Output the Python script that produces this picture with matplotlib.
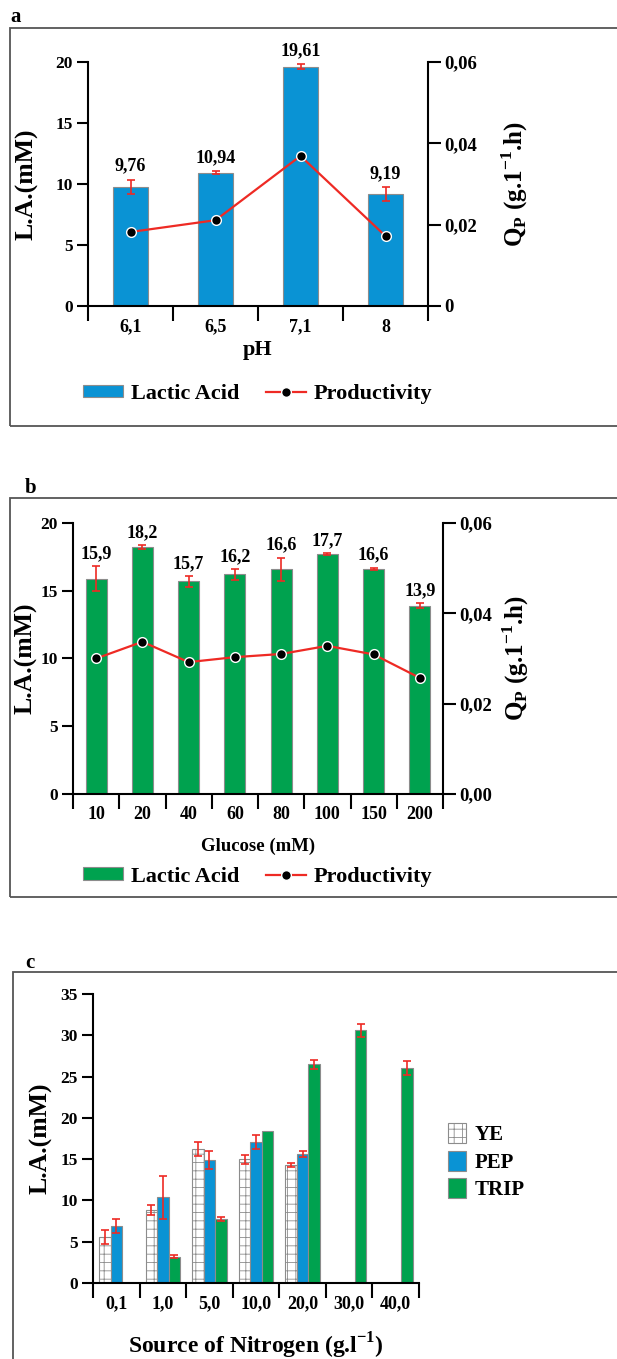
import numpy as np
import matplotlib
matplotlib.use('Agg')
import matplotlib.pyplot as plt
from matplotlib.patches import Rectangle

plt.rcParams['font.family'] = ['Liberation Serif', 'DejaVu Serif']
plt.rcParams['font.weight'] = 'bold'
plt.rcParams['axes.labelweight'] = 'bold'
plt.rcParams['hatch.linewidth'] = 0.6

# ---- data ----
ph_labels = ['6,1', '6,5', '7,1', '8']
la_ph = [9.76, 10.94, 19.61, 9.19]
la_ph_err = [0.6, 0.15, 0.2, 0.55]
qp_ph = [0.0182, 0.0211, 0.0369, 0.0172]

glu_labels = ['10', '20', '40', '60', '80', '100', '150', '200']
la_glu = [15.9, 18.2, 15.7, 16.2, 16.6, 17.7, 16.6, 13.9]
la_glu_err = [0.9, 0.15, 0.4, 0.4, 0.85, 0.05, 0.1, 0.2]
qp_glu = [0.0300, 0.0337, 0.0292, 0.0303, 0.0310, 0.0328, 0.0309, 0.0257]

nit_labels = ['0,1', '1,0', '5,0', '10,0', '20,0', '30,0', '40,0']
ye = [5.6, 8.8, 16.2, 15.0, 14.3, np.nan, np.nan]
ye_err = [0.85, 0.6, 0.85, 0.55, 0.25, 0, 0]
pep = [6.9, 10.4, 14.9, 17.1, 15.6, np.nan, np.nan]
pep_err = [0.9, 2.6, 1.1, 0.85, 0.4, 0, 0]
trip = [np.nan, 3.2, 7.8, 18.4, 26.5, 30.6, 26.0]
trip_err = [0, 0.2, 0.25, 0, 0.55, 0.75, 0.85]

BLUE = '#0a93d4'
GREEN = '#00a24f'
RED = '#ee2a24'
EDGE = '#8c8c8c'

W, H = 617, 1359
fig = plt.figure(figsize=(W / 100, H / 100), dpi=100)


def rect(l, r, top, bot):
    # pixel box -> figure fraction
    return [l / W, 1 - bot / H, (r - l) / W, (bot - top) / H]


def frame(x0, y0, y1, letter, lx, ly):
    fig.patches.append(Rectangle((x0 / W, 1 - y1 / H), (W + 10 - x0) / W, (y1 - y0) / H,
                                 transform=fig.transFigure, fill=False,
                                 edgecolor='#555555', linewidth=1.3, clip_on=False))
    fig.text(lx / W, 1 - ly / H, letter, fontsize=15, ha='left', va='center')


def style_axes(ax, n, ytl, ylabel):
    ax.set_xlim(0, n)
    ax.spines['top'].set_visible(False)
    ax.spines['right'].set_visible(False)
    for s in ['left', 'bottom']:
        ax.spines[s].set_linewidth(1.5)
    ax.set_xticks(np.arange(n + 1))
    ax.set_xticklabels([])
    ax.tick_params(axis='x', which='major', length=11, width=1.5, direction='out')
    ax.tick_params(axis='y', length=8, width=1.5, pad=3, labelsize=12.5)
    ax.set_yticklabels(ytl)
    ax.set_ylabel(ylabel, fontsize=18.5)


def twin_style(ax2, ticks, labels, xpos):
    ax2.set_ylim(0, 0.06)
    ax2.set_yticks(ticks)
    ax2.set_yticklabels(labels)
    for s in ['top', 'left', 'bottom']:
        ax2.spines[s].set_visible(False)
    ax2.spines['right'].set_linewidth(1.5)
    ax2.tick_params(axis='y', length=9, width=1.5, pad=3, labelsize=13.5)
    ax2.set_ylabel(r'Q$_\mathregular{P}$ (g.1$^\mathregular{-1}$.h)', fontsize=18,
                   rotation=90)
    ax2.yaxis.set_label_coords(xpos, 0.5)


# ================= panel a =================
frame(10, 28, 426, 'a', 10, 17)
ax = fig.add_axes(rect(88, 428, 62, 306))
x = np.arange(len(la_ph)) + 0.5
ax.bar(x, la_ph, width=0.41, color=BLUE, edgecolor=EDGE, linewidth=0.8,
       label='Lactic Acid', zorder=2)
ax.errorbar(x, la_ph, yerr=la_ph_err, fmt='none', ecolor=RED, elinewidth=1.2,
            capsize=3, capthick=1.2, zorder=3)
for xi, v, e in zip(x, la_ph, la_ph_err):
    ax.text(xi, v + e + 0.4, f'{v:.2f}'.replace('.', ','), ha='center', va='bottom',
            fontsize=13, clip_on=False)
ax.set_ylim(0, 20)
ax.set_yticks([0, 5, 10, 15, 20])
style_axes(ax, len(la_ph), ['0', '5', '10', '15', '20'], 'L.A.(mM)')
ax.set_xticks(x, minor=True)
ax.set_xticklabels(ph_labels, minor=True, fontsize=13)
ax.tick_params(axis='x', which='minor', length=0, pad=9)
ax.set_xlabel('pH', fontsize=16)
ax.xaxis.set_label_coords(0.5, -0.14)
ax.yaxis.set_label_coords(-0.147, 0.5)

ax2 = ax.twinx()
ln, = ax2.plot(x, qp_ph, color=RED, linewidth=1.6, marker='o', markersize=7,
               markerfacecolor='black', markeredgecolor='white', markeredgewidth=1,
               label='Productivity', zorder=4)
twin_style(ax2, [0, 0.02, 0.04, 0.06], ['0', '0,02', '0,04', '0,06'], 1.21)
h1, l1 = ax.get_legend_handles_labels()
ax.legend(h1 + [ln], l1 + ['Productivity'], loc='center', bbox_to_anchor=(0.5, -0.36),
          ncol=2, frameon=False, fontsize=16, handlelength=1.8, handleheight=0.5,
          handletextpad=0.35, columnspacing=1.2)

# ================= panel b =================
frame(10, 498, 897, 'b', 25, 488)
bx = fig.add_axes(rect(73, 443, 523, 794))
x = np.arange(len(la_glu)) + 0.5
bx.bar(x, la_glu, width=0.45, color=GREEN, edgecolor=EDGE, linewidth=0.8,
       label='Lactic Acid', zorder=2)
bx.errorbar(x, la_glu, yerr=la_glu_err, fmt='none', ecolor=RED, elinewidth=1.2,
            capsize=3, capthick=1.2, zorder=3)
for xi, v, e in zip(x, la_glu, la_glu_err):
    bx.text(xi, v + e + 0.3, f'{v:.1f}'.replace('.', ','), ha='center', va='bottom',
            fontsize=13, clip_on=False)
bx.set_ylim(0, 20)
bx.set_yticks([0, 5, 10, 15, 20])
style_axes(bx, len(la_glu), ['0', '5', '10', '15', '20'], 'L.A.(mM)')
bx.set_xticks(x, minor=True)
bx.set_xticklabels(glu_labels, minor=True, fontsize=13)
bx.tick_params(axis='x', which='minor', length=0, pad=9)
bx.set_xlabel('Glucose (mM)', fontsize=13.5)
bx.xaxis.set_label_coords(0.5, -0.16)
bx.yaxis.set_label_coords(-0.095, 0.5)

bx2 = bx.twinx()
ln2, = bx2.plot(x, qp_glu, color=RED, linewidth=1.6, marker='o', markersize=7,
                markerfacecolor='black', markeredgecolor='white', markeredgewidth=1,
                zorder=4)
twin_style(bx2, [0, 0.02, 0.04, 0.06], ['0,00', '0,02', '0,04', '0,06'], 1.154)
h1, l1 = bx.get_legend_handles_labels()
bx.legend(h1 + [ln2], l1 + ['Productivity'], loc='center', bbox_to_anchor=(0.5, -0.305),
          ncol=2, frameon=False, fontsize=16, handlelength=1.8, handleheight=0.5,
          handletextpad=0.35, columnspacing=1.2)

# ================= panel c =================
frame(13, 972, 1400, 'c', 25, 963)
cx = fig.add_axes(rect(93, 419, 994, 1283))
x = np.arange(len(nit_labels)) + 0.5
bw = 0.245
series = [(ye, ye_err, 'YE', 'white', '++'),
          (pep, pep_err, 'PEP', BLUE, None),
          (trip, trip_err, 'TRIP', GREEN, None)]
for k, (vals, errs, name, col, hatch) in enumerate(series):
    pos = x + (k - 1) * bw
    cx.bar(pos, vals, width=bw, color=col, edgecolor=EDGE, linewidth=0.8,
           hatch=hatch, label=name, zorder=2)
    v = np.array(vals, dtype=float)
    e = np.array(errs, dtype=float)
    m = (~np.isnan(v)) & (e > 0)
    cx.errorbar(pos[m], v[m], yerr=e[m], fmt='none', ecolor=RED, elinewidth=1.2,
                capsize=3, capthick=1.2, zorder=3)
cx.set_ylim(0, 35)
cx.set_yticks(np.arange(0, 36, 5))
style_axes(cx, len(nit_labels), [str(t) for t in range(0, 36, 5)], 'L.A.(mM)')
cx.set_xticks(x, minor=True)
cx.set_xticklabels(nit_labels, minor=True, fontsize=13)
cx.tick_params(axis='x', which='minor', length=0, pad=9)
cx.set_xlabel(r'Source of Nitrogen (g.l$^\mathregular{-1}$)', fontsize=17)
cx.xaxis.set_label_coords(0.5, -0.165)
cx.yaxis.set_label_coords(-0.123, 0.5)
cx.legend(loc='center left', bbox_to_anchor=(1.03, 0.42), frameon=False, fontsize=15,
          handlelength=0.9, handleheight=1.1, handletextpad=0.4, labelspacing=0.25)

fig.savefig('out.png', dpi=100)
